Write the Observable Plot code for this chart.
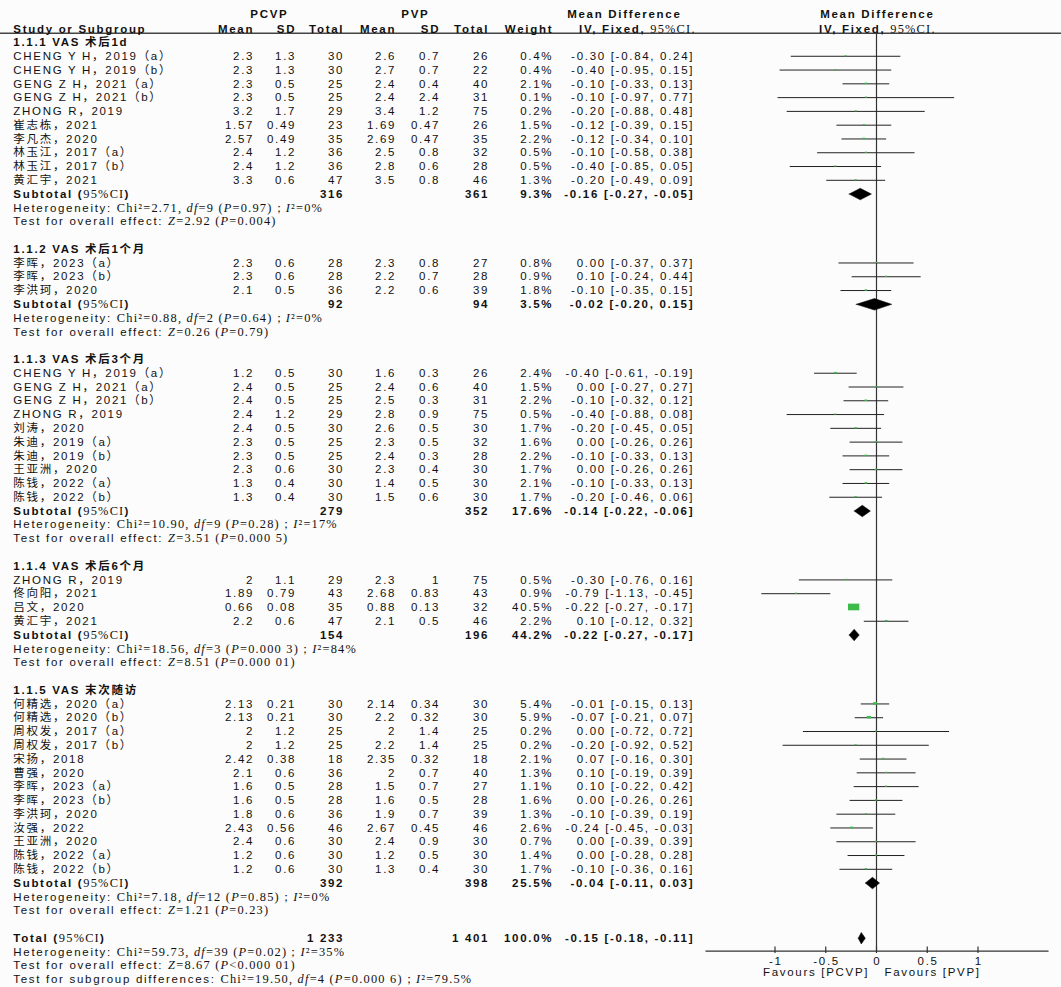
<!DOCTYPE html>
<html>
<head>
<meta charset="utf-8">
<script src="https://cdn.jsdelivr.net/npm/d3@7"></script>
<script src="https://cdn.jsdelivr.net/npm/@observablehq/plot@0.6"></script>
<style>
html, body { margin: 0; padding: 0; background: #fcfcfc; }
#chart svg { display: block; background: #fcfcfc; }
#chart svg text { letter-spacing: 1.7px; }
#chart svg tspan.serif { letter-spacing: 1.2px; font-family: "Liberation Serif", "Times New Roman", serif; font-weight: normal; font-size: 12.4px; }
#chart svg tspan.ital { font-style: italic; }
</style>
</head>
<body>
<div id="chart"></div>
<script>
// ---------------- DATA ----------------
const groupTitles = ["1.1.1 VAS 术后1d", "1.1.2 VAS 术后1个月", "1.1.3 VAS 术后3个月", "1.1.4 VAS 术后6个月", "1.1.5 VAS 末次随访"];

const studies = [
  "CHENG Y H，2019（a）", "CHENG Y H，2019（b）", "GENG Z H，2021（a）", "GENG Z H，2021（b）", "ZHONG R，2019",
  "崔志栋，2021", "李凡杰，2020", "林玉江，2017（a）", "林玉江，2017（b）", "黄汇宇，2021",
  "李晖，2023（a）", "李晖，2023（b）", "李洪珂，2020",
  "CHENG Y H，2019（a）", "GENG Z H，2021（a）", "GENG Z H，2021（b）", "ZHONG R，2019", "刘涛，2020",
  "朱迪，2019（a）", "朱迪，2019（b）", "王亚洲，2020", "陈钱，2022（a）", "陈钱，2022（b）",
  "ZHONG R，2019", "佟向阳，2021", "吕文，2020", "黄汇宇，2021",
  "何精选，2020（a）", "何精选，2020（b）", "周权发，2017（a）", "周权发，2017（b）", "宋扬，2018",
  "曹强，2020", "李晖，2023（a）", "李晖，2023（b）", "李洪珂，2020", "汝强，2022",
  "王亚洲，2020", "陈钱，2022（a）", "陈钱，2022（b）"
];
const studyGroup = [0,0,0,0,0,0,0,0,0,0, 1,1,1, 2,2,2,2,2,2,2,2,2,2, 3,3,3,3, 4,4,4,4,4,4,4,4,4,4,4,4,4];
const pcvpMean = [2.3,2.3,2.3,2.3,3.2,1.57,2.57,2.4,2.4,3.3, 2.3,2.3,2.1, 1.2,2.4,2.4,2.4,2.4,2.3,2.3,2.3,1.3,1.3, 2,1.89,0.66,2.2, 2.13,2.13,2,2,2.42,2.1,1.6,1.6,1.8,2.43,2.4,1.2,1.2];
const pcvpSD   = [1.3,1.3,0.5,0.5,1.7,0.49,0.49,1.2,1.2,0.6, 0.6,0.6,0.5, 0.5,0.5,0.5,1.2,0.5,0.5,0.5,0.6,0.4,0.4, 1.1,0.79,0.08,0.6, 0.21,0.21,1.2,1.2,0.38,0.6,0.5,0.5,0.6,0.56,0.6,0.6,0.6];
const pcvpN    = [30,30,25,25,29,23,35,36,36,47, 28,28,36, 30,25,25,29,30,25,25,30,30,30, 29,43,35,47, 30,30,25,25,18,36,28,28,36,46,30,30,30];
const pvpMean  = [2.6,2.7,2.4,2.4,3.4,1.69,2.69,2.5,2.8,3.5, 2.3,2.2,2.2, 1.6,2.4,2.5,2.8,2.6,2.3,2.4,2.3,1.4,1.5, 2.3,2.68,0.88,2.1, 2.14,2.2,2,2.2,2.35,2,1.5,1.6,1.9,2.67,2.4,1.2,1.3];
const pvpSD    = [0.7,0.7,0.4,2.4,1.2,0.47,0.47,0.8,0.6,0.8, 0.8,0.7,0.6, 0.3,0.6,0.3,0.9,0.5,0.5,0.3,0.4,0.5,0.6, 1,0.83,0.13,0.5, 0.34,0.32,1.4,1.4,0.32,0.7,0.7,0.5,0.7,0.45,0.9,0.5,0.4];
const pvpN     = [26,22,40,31,75,26,35,32,28,46, 27,28,39, 26,40,31,75,30,32,28,30,30,30, 75,43,32,46, 30,30,25,25,18,40,27,28,39,46,30,30,30];
const weight   = [0.4,0.4,2.1,0.1,0.2,1.5,2.2,0.5,0.5,1.3, 0.8,0.9,1.8, 2.4,1.5,2.2,0.5,1.7,1.6,2.2,1.7,2.1,1.7, 0.5,0.9,40.5,2.2, 5.4,5.9,0.2,0.2,2.1,1.3,1.1,1.6,1.3,2.6,0.7,1.4,1.7];
const meanDiff = [-0.30,-0.40,-0.10,-0.10,-0.20,-0.12,-0.12,-0.10,-0.40,-0.20, 0.00,0.10,-0.10, -0.40,0.00,-0.10,-0.40,-0.20,0.00,-0.10,0.00,-0.10,-0.20, -0.30,-0.79,-0.22,0.10, -0.01,-0.07,0.00,-0.20,0.07,0.10,0.10,0.00,-0.10,-0.24,0.00,0.00,-0.10];
const ciLow    = [-0.84,-0.95,-0.33,-0.97,-0.88,-0.39,-0.34,-0.58,-0.85,-0.49, -0.37,-0.24,-0.35, -0.61,-0.27,-0.32,-0.88,-0.45,-0.26,-0.33,-0.26,-0.33,-0.46, -0.76,-1.13,-0.27,-0.12, -0.15,-0.21,-0.72,-0.92,-0.16,-0.19,-0.22,-0.26,-0.39,-0.45,-0.39,-0.28,-0.36];
const ciHigh   = [0.24,0.15,0.13,0.77,0.48,0.15,0.10,0.38,0.05,0.09, 0.37,0.44,0.15, -0.19,0.27,0.12,0.08,0.05,0.26,0.13,0.26,0.13,0.06, 0.16,-0.45,-0.17,0.32, 0.13,0.07,0.72,0.52,0.30,0.39,0.42,0.26,0.19,-0.03,0.39,0.28,0.16];

const subN1     = [316, 92, 279, 154, 392];
const subN2     = [361, 94, 352, 196, 398];
const subWeight = [9.3, 3.5, 17.6, 44.2, 25.5];
const subMD     = [-0.16, -0.02, -0.14, -0.22, -0.04];
const subLow    = [-0.27, -0.20, -0.22, -0.27, -0.11];
const subHigh   = [-0.05, 0.15, -0.06, -0.17, 0.03];
const hetChi2   = ["2.71", "0.88", "10.90", "18.56", "7.18"];
const hetDf     = [9, 2, 9, 3, 12];
const hetP      = ["=0.97", "=0.64", "=0.28", "=0.000 3", "=0.85"];
const hetI2     = ["0%", "0%", "17%", "84%", "0%"];
const testZ     = ["2.92", "0.26", "3.51", "8.51", "1.21"];
const testP     = ["=0.004", "=0.79", "=0.000 5", "=0.000 01", "=0.23"];

const totalN1 = "1 233", totalN2 = "1 401", totalWeight = 100.0;
const totalMD = -0.15, totalLow = -0.18, totalHigh = -0.11;
const totalHet = {chi2: "59.73", df: 39, p: "=0.02", i2: "35%"};
const totalTest = {z: "8.67", p: "<0.000 01"};
const subgroupTest = {chi2: "19.50", df: 4, p: "=0.000 6", i2: "79.5%"};

const xTicks = [-1, -0.5, 0, 0.5, 1];
const favours = ["Favours [PCVP]", "Favours [PVP]"];

// ---------------- LAYOUT ----------------
const W = 1061, H = 987;
const firstRowPx = 42, rowPx = 13.78;     // line grid
const zeroPx = 876, unitPx = 101.5;       // forest x scale
const headerLineRow = -0.67, axisRow = 65.94, tickLabelRow = 66.67, favoursRow = 67.5;
const axisExtent = [-1.68, 1.70];
const LS = 1.7;  // letter spacing
const col = {name: 12.8, m1: 252, s1: 294, n1: 342, m2: 394, s2: 438, n2: 487, w: 551, ci: 692};

const f2 = v => v.toFixed(2);
const ciText = (m, l, h) => `${f2(m)} [${f2(l)}, ${f2(h)}]`;
const statsText = (c, d, p, i) => `«s:Chi²=${c}, »«i:df»«s:=${d} (»«i:P»«s:${p})；»«i:I»«s:²=${i}»`;
const hetText = (c, d, p, i) => `Heterogeneity: ${statsText(c, d, p, i)}`;
const testText = (z, p) => `Test for overall effect: «i:Z»«s:=${z} (»«i:P»«s:${p})»`;

// build rows
const cells = [];
const cell = (row, x, anchor, text, bold = false) => cells.push({row, x, anchor, text, bold});
const studyRows = [], diamonds = [];
let r = 0;
groupTitles.forEach((title, g) => {
  cell(r++, col.name, "start", title, true);
  studies.forEach((s, i) => {
    if (studyGroup[i] !== g) return;
    cell(r, col.name, "start", s);
    cell(r, col.m1, "end", String(pcvpMean[i]));
    cell(r, col.s1, "end", String(pcvpSD[i]));
    cell(r, col.n1, "end", String(pcvpN[i]));
    cell(r, col.m2, "end", String(pvpMean[i]));
    cell(r, col.s2, "end", String(pvpSD[i]));
    cell(r, col.n2, "end", String(pvpN[i]));
    cell(r, col.w, "end", weight[i].toFixed(1) + "%");
    cell(r, col.ci, "end", ciText(meanDiff[i], ciLow[i], ciHigh[i]));
    studyRows.push({row: r, md: meanDiff[i], lo: ciLow[i], hi: ciHigh[i], w: weight[i]});
    r++;
  });
  cell(r, col.name, "start", "Subtotal («s:95%CI»)", true);
  cell(r, col.n1, "end", String(subN1[g]), true);
  cell(r, col.n2, "end", String(subN2[g]), true);
  cell(r, col.w, "end", subWeight[g].toFixed(1) + "%", true);
  cell(r, col.ci, "end", ciText(subMD[g], subLow[g], subHigh[g]), true);
  diamonds.push({id: g, row: r, md: subMD[g], lo: subLow[g], hi: subHigh[g]});
  r++;
  cell(r++, col.name, "start", hetText(hetChi2[g], hetDf[g], hetP[g], hetI2[g]));
  cell(r++, col.name, "start", testText(testZ[g], testP[g]));
  r++;
});
cell(r, col.name, "start", "Total («s:95%CI»)", true);
cell(r, col.n1, "end", totalN1, true);
cell(r, col.n2, "end", totalN2, true);
cell(r, col.w, "end", totalWeight.toFixed(1) + "%", true);
cell(r, col.ci, "end", ciText(totalMD, totalLow, totalHigh), true);
diamonds.push({id: 9, row: r, md: totalMD, lo: totalLow, hi: totalHigh});
r++;
cell(r++, col.name, "start", hetText(totalHet.chi2, totalHet.df, totalHet.p, totalHet.i2));
cell(r++, col.name, "start", testText(totalTest.z, totalTest.p));
cell(r++, col.name, "start", `Test for subgroup differences: ${statsText(subgroupTest.chi2, subgroupTest.df, subgroupTest.p, subgroupTest.i2)}`);

// headers
const hA = -2.04, hB = -0.98;
cell(hA, 268, "middle", "PCVP", true);
cell(hA, 414, "middle", "PVP", true);
cell(hB, col.name, "start", "Study or Subgroup", true);
cell(hB, col.m1, "end", "Mean", true);
cell(hB, col.s1, "end", "SD", true);
cell(hB, col.n1, "end", "Total", true);
cell(hB, col.m2, "end", "Mean", true);
cell(hB, col.s2, "end", "SD", true);
cell(hB, col.n2, "end", "Total", true);
cell(hB, col.w, "end", "Weight", true);
cell(hA, 623, "middle", "Mean Difference", true);
cell(hB, 636, "middle", "IV, Fixed, «s:95%CI.»", true);
cell(hA, zeroPx, "middle", "Mean Difference", true);
cell(hB, zeroPx, "middle", "IV, Fixed, «s:95%CI.»", true);

// diamond polygons
const dh = 0.42;
const diamondPts = diamonds.flatMap(d => [
  {id: d.id, x: d.lo, y: d.row}, {id: d.id, x: d.md, y: d.row - dh},
  {id: d.id, x: d.hi, y: d.row}, {id: d.id, x: d.md, y: d.row + dh}, {id: d.id, x: d.lo, y: d.row}
]);

// square sizes (area ~ weight)
const halfW = w => Math.max(1, 5.65 * Math.sqrt(w / 40.5)) / unitPx;
const halfH = w => Math.max(0.6, 3.35 * Math.sqrt(w / 40.5)) / rowPx;

const textMarks = d3.groups(cells, d => `${d.x}|${d.anchor}|${d.bold}`).map(([key, list]) => {
  const c = list[0];
  const shift = c.anchor === "end" ? LS : c.anchor === "middle" ? LS / 2 : 0;
  return Plot.text(list, {
    y: "row", text: "text", frameAnchor: "left", dx: c.x + shift,
    textAnchor: c.anchor, fontWeight: c.bold ? "bold" : "normal", fill: "#111"
  });
});

const chart = Plot.plot({
  width: W, height: H,
  marginTop: 0, marginRight: 0, marginBottom: 0, marginLeft: 0,
  x: {domain: [-zeroPx / unitPx, (W - zeroPx) / unitPx], range: [0, W], axis: null},
  y: {domain: [-firstRowPx / rowPx, (H - firstRowPx) / rowPx], range: [0, H], axis: null},
  style: {fontFamily: '"Liberation Sans", Arial, "Noto Sans CJK SC", sans-serif', fontSize: "11.5px", background: "#fcfcfc", color: "#111"},
  marks: [
    Plot.ruleY([headerLineRow], {stroke: "#444", strokeWidth: 1.3}),
    Plot.ruleX([0], {y1: headerLineRow, y2: axisRow, stroke: "#333", strokeWidth: 1.2}),
    Plot.ruleY(studyRows, {y: "row", x1: "lo", x2: "hi", stroke: "#222", strokeWidth: 1}),
    Plot.rect(studyRows, {
      x1: d => d.md - halfW(d.w), x2: d => d.md + halfW(d.w),
      y1: d => d.row - halfH(d.w), y2: d => d.row + halfH(d.w), fill: "#3dbb4a"
    }),
    Plot.line(diamondPts, {x: "x", y: "y", z: "id", fill: "#000", stroke: "#000", strokeWidth: 0.5}),
    Plot.ruleY([axisRow], {x1: axisExtent[0], x2: axisExtent[1], stroke: "#333", strokeWidth: 1.2}),
    Plot.ruleX(xTicks, {x: d => d, y1: axisRow - 0.3, y2: axisRow + 0.17, stroke: "#333", strokeWidth: 1.2}),
    Plot.text(xTicks, {x: d => d, y: tickLabelRow, text: d => String(d), dx: LS / 2, fill: "#111"}),
    Plot.text([favours[0]], {x: 0, y: favoursRow, text: d => d, textAnchor: "end", dx: -9 + LS, fill: "#111"}),
    Plot.text([favours[1]], {x: 0, y: favoursRow, text: d => d, textAnchor: "start", dx: 8, fill: "#111"}),
    ...textMarks
  ]
});

// rich text: serif / italic segments
const NS = "http://www.w3.org/2000/svg";
chart.querySelectorAll("text").forEach(el => {
  const s = el.textContent;
  if (!s.includes("«")) return;
  while (el.firstChild) el.removeChild(el.firstChild);
  const add = (t, kind) => {
    const sp = document.createElementNS(NS, "tspan");
    sp.textContent = t;
    if (kind) sp.setAttribute("class", kind === "i" ? "serif ital" : "serif");
    el.appendChild(sp);
  };
  const re = /«([si]):(.*?)»/g;
  let last = 0, m;
  while ((m = re.exec(s))) {
    if (m.index > last) add(s.slice(last, m.index), null);
    add(m[2], m[1]);
    last = re.lastIndex;
  }
  if (last < s.length) add(s.slice(last), null);
});

document.getElementById("chart").appendChild(chart);
</script>
</body>
</html>
